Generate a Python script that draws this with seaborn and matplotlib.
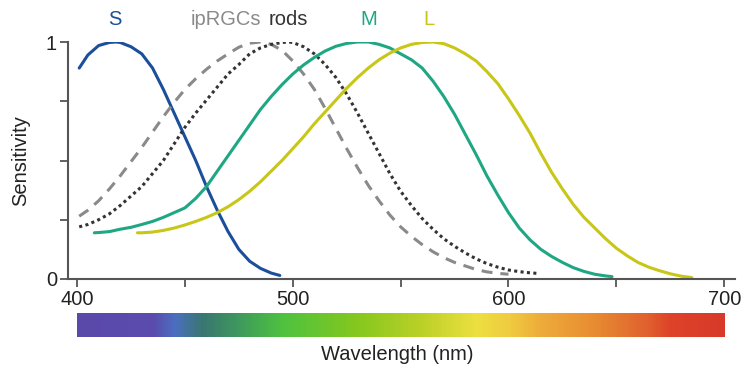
import numpy as np
import pandas as pd
import matplotlib
matplotlib.use("Agg")
import matplotlib.pyplot as plt
import seaborn as sns
from matplotlib.colors import LinearSegmentedColormap

# ---- data ----
s_wl = [401, 405, 410, 415, 418, 420, 425, 430, 435, 440, 445, 450, 455, 460, 465, 470,
        475, 480, 485, 490, 494]
s_val = [0.89, 0.945, 0.985, 0.998, 1.0, 0.998, 0.98, 0.95, 0.89, 0.80, 0.70, 0.60, 0.50,
         0.39, 0.29, 0.20, 0.125, 0.075, 0.045, 0.025, 0.015]

ip_wl = [401, 405, 410, 415, 420, 425, 430, 435, 440, 445, 450, 455, 460, 465, 470, 475,
         480, 485, 490, 495, 500, 505, 510, 515, 520, 525, 530, 535, 540, 545, 550, 555,
         560, 565, 570, 575, 580, 585, 590, 595, 600]
ip_val = [0.265, 0.29, 0.33, 0.38, 0.435, 0.495, 0.555, 0.62, 0.685, 0.745, 0.80, 0.845,
          0.885, 0.92, 0.95, 0.978, 0.995, 1.0, 0.99, 0.965, 0.92, 0.865, 0.80, 0.72, 0.635,
          0.55, 0.47, 0.395, 0.33, 0.27, 0.22, 0.18, 0.145, 0.115, 0.09, 0.07, 0.055, 0.04,
          0.03, 0.024, 0.02]

rod_wl = [401, 405, 410, 415, 420, 425, 430, 435, 440, 445, 450, 455, 460, 465, 470, 475,
          480, 485, 490, 495, 498, 500, 505, 510, 515, 520, 525, 530, 535, 540, 545, 550,
          555, 560, 565, 570, 575, 580, 585, 590, 595, 600, 605, 610, 613]
rod_val = [0.22, 0.23, 0.25, 0.275, 0.31, 0.35, 0.39, 0.445, 0.50, 0.57, 0.64, 0.70, 0.755,
           0.81, 0.865, 0.905, 0.95, 0.975, 0.99, 0.998, 1.0, 0.998, 0.98, 0.95, 0.905, 0.85,
           0.78, 0.70, 0.615, 0.53, 0.445, 0.37, 0.31, 0.255, 0.21, 0.17, 0.138, 0.11, 0.085,
           0.065, 0.05, 0.038, 0.031, 0.026, 0.024]

m_wl = [408, 410, 415, 420, 425, 430, 435, 440, 445, 450, 455, 460, 465, 470, 475, 480,
        485, 490, 495, 500, 505, 510, 515, 520, 525, 530, 535, 540, 545, 550, 555, 560,
        565, 570, 575, 580, 585, 590, 595, 600, 605, 610, 615, 620, 625, 630, 635, 640,
        645, 648]
m_val = [0.195, 0.196, 0.20, 0.21, 0.218, 0.23, 0.243, 0.26, 0.28, 0.30, 0.34, 0.39,
         0.455, 0.52, 0.585, 0.65, 0.715, 0.77, 0.82, 0.865, 0.903, 0.935, 0.962, 0.982,
         0.994, 1.0, 1.0, 0.99, 0.975, 0.95, 0.925, 0.89, 0.835, 0.77, 0.695, 0.61, 0.525,
         0.435, 0.355, 0.28, 0.215, 0.165, 0.125, 0.095, 0.07, 0.048, 0.032, 0.02, 0.013,
         0.01]

l_wl = [428, 430, 435, 440, 445, 450, 455, 460, 465, 470, 475, 480, 485, 490, 495, 500,
        505, 510, 515, 520, 525, 530, 535, 540, 545, 550, 555, 560, 565, 570, 575, 580,
        585, 590, 595, 600, 605, 610, 615, 620, 625, 630, 635, 640, 645, 650, 655, 660,
        665, 670, 675, 680, 685]
l_val = [0.195, 0.195, 0.198, 0.205, 0.215, 0.228, 0.243, 0.26, 0.28, 0.305, 0.335, 0.37,
         0.41, 0.455, 0.50, 0.55, 0.60, 0.655, 0.705, 0.755, 0.805, 0.85, 0.89, 0.925,
         0.953, 0.975, 0.99, 0.998, 1.0, 0.993, 0.975, 0.95, 0.92, 0.875, 0.825, 0.76, 0.69,
         0.615, 0.53, 0.45, 0.38, 0.315, 0.26, 0.215, 0.17, 0.13, 0.098, 0.07, 0.05, 0.035,
         0.022, 0.012, 0.006]

curve_names = ["S", "ipRGCs", "rods", "M", "L"]
label_pos = [417.5, 469.0, 498.0, 535.0, 563.0]

x_ticks = [400, 450, 500, 550, 600, 650, 700]
x_ticklabels = ["400", "", "500", "", "600", "", "700"]
y_ticks = [0, 0.25, 0.5, 0.75, 1]
y_ticklabels = ["0", "", "", "", "1"]

spec_wl = [400, 435, 445, 458, 475, 495, 530, 560, 585, 600, 615, 640, 665, 675, 700]
spec_col = ["#5b49a9", "#5a4cae", "#4b6fc0", "#397770", "#3f9a5c", "#4ec23f", "#86c81e",
            "#bcd128", "#ede040", "#f0cc40", "#eeac3a", "#e88c32", "#e0602e", "#df4329", "#d83a2a"]

# ---- styling ----
sns.set_style("ticks")
plt.rcParams["font.family"] = ["Liberation Sans", "DejaVu Sans"]

col_S = "#1b4f9c"
col_ip = "#8a8a8a"
col_rod = "#333333"
col_M = "#1fa783"
col_L = "#c8c617"
axis_col = "#555555"

fig = plt.figure(figsize=(7.42, 3.67), dpi=100)
ax = fig.add_axes([68 / 742, 1 - 279 / 367, (735 - 68) / 742, (279 - 42) / 367])

lw = 2.2
sns.lineplot(x=s_wl, y=s_val, ax=ax, color=col_S, lw=lw)
sns.lineplot(x=ip_wl, y=ip_val, ax=ax, color=col_ip, lw=lw)
ax.lines[-1].set_dashes([3.6, 2.6])
ax.lines[-1].set_dash_capstyle("butt")
sns.lineplot(x=rod_wl, y=rod_val, ax=ax, color=col_rod, lw=lw)
ax.lines[-1].set_dashes([1.0, 1.1])
ax.lines[-1].set_dash_capstyle("butt")
sns.lineplot(x=m_wl, y=m_val, ax=ax, color=col_M, lw=lw)
sns.lineplot(x=l_wl, y=l_val, ax=ax, color=col_L, lw=lw)
for ln in ax.lines:
    ln.set_solid_joinstyle("round")

ax.set_xlim(395.8, 705)
ax.set_ylim(0, 1)
ax.set_xticks(x_ticks)
ax.set_xticklabels(x_ticklabels)
ax.set_yticks(y_ticks)
ax.set_yticklabels(y_ticklabels)
ax.tick_params(axis="both", colors=axis_col, labelcolor="#222222", labelsize=14.5,
               length=6, width=1.3, direction="out", pad=2)
for side in ["top", "right"]:
    ax.spines[side].set_visible(False)
for side in ["left", "bottom"]:
    ax.spines[side].set_color(axis_col)
    ax.spines[side].set_linewidth(1.5)
ax.set_xlabel("")
ax.set_ylabel("Sensitivity", fontsize=14.5, color="#222222", labelpad=11)

label_cols = [col_S, col_ip, col_rod, col_M, col_L]
for name, xpos, c in zip(curve_names, label_pos, label_cols):
    ax.text(xpos, 1.093, name, color=c, fontsize=14.5, ha="center", va="center",
            clip_on=False)

# spectrum bar
cax = fig.add_axes([77 / 742, 1 - 337 / 367, (725 - 77) / 742, 24 / 367])
positions = [(w - spec_wl[0]) / (spec_wl[-1] - spec_wl[0]) for w in spec_wl]
cmap = LinearSegmentedColormap.from_list("spec", list(zip(positions, spec_col)))
grad = np.linspace(0, 1, 600)[None, :]
cax.imshow(grad, aspect="auto", cmap=cmap, extent=[400, 700, 0, 1])
cax.set_axis_off()

fig.text(397 / 742, 1 - 355 / 367, "Wavelength (nm)", ha="center", va="center",
         fontsize=14.5, color="#222222")

fig.savefig("out.png", dpi=100)
